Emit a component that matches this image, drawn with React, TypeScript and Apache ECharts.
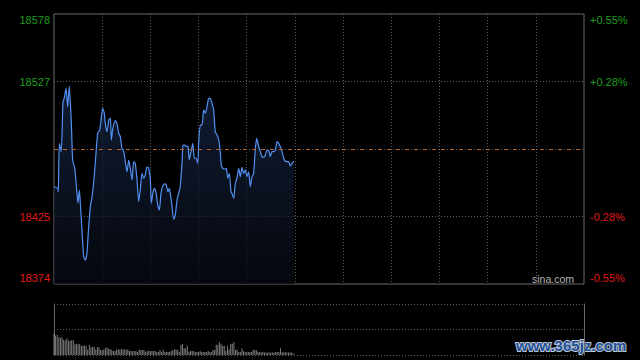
import React, { useEffect, useRef } from "react";
import * as echarts from "echarts";

const prevClose = 18476;
const priceMin = 18374;
const priceMax = 18578;
const priceStep = 51;

const times = [
  0, 2.3, 2.7, 3.3, 4.5, 5.6, 6.4, 7.5, 8.5, 9.5,
  10.8, 11.6, 12.9, 14.3, 14.9, 15.8, 16.4, 17.4, 18.5, 19.5,
  20.5, 21.6, 22.6, 23.7, 24.7, 25.7, 27.2, 28.5, 29.5, 30.3,
  31.3, 31.9, 33.0, 34.1, 35.1, 35.7, 36.7, 38.2, 39.2, 40.3,
  41.3, 42.3, 43.4, 44.4, 45.5, 46.5, 47.5, 48.6, 49.6, 50.6,
  51.7, 52.7, 53.7, 54.8, 55.9, 56.8, 57.9, 59.0, 60.0, 60.6,
  61.5, 62.5, 63.5, 64.6, 65.6, 66.6, 67.7, 68.9, 69.9, 71.0,
  71.8, 72.7, 73.5, 74.5, 75.5, 76.6, 77.6, 78.6, 79.7, 80.3,
  81.4, 82.4, 83.4, 84.2, 85.3, 86.4, 87.4, 88.4, 89.5, 90.1,
  91.1, 92.2, 93.2, 94.2, 95.3, 96.3, 97.3, 98.4, 99.4, 100.4,
  101.5, 102.6, 103.5, 104.2, 105.2, 106.3, 107.3, 108.2, 109.2, 110.2,
  110.8, 111.9, 112.9, 113.9, 115.0, 116.0, 117.1, 118.1, 119.1, 120.2,
  121.2, 122.2, 123.3, 124.3, 125.3, 126.2, 127.5, 128.5, 129.5, 130.6,
  131.6, 132.6, 133.7, 134.7, 135.7, 136.8, 137.8, 138.9, 139.9, 140.9,
  142.0, 143.0, 144.0, 145.1, 146.1, 147.1, 148.2, 149.3,
];

const prices = [
  18447.5, 18446.3, 18443.7, 18480.3, 18474.0, 18511.7, 18514.5, 18521.9, 18508.0, 18523.6,
  18495.6, 18467.7, 18461.6, 18442.8, 18435.2, 18445.0, 18435.2, 18414.8, 18394.6, 18392.1,
  18397.4, 18417.3, 18432.4, 18440.0, 18450.3, 18465.4, 18488.1, 18490.4, 18500.4, 18506.7,
  18503.2, 18495.6, 18489.1, 18497.9, 18499.4, 18482.8, 18491.9, 18497.4, 18495.4, 18487.9,
  18485.3, 18476.5, 18474.0, 18466.4, 18458.8, 18467.7, 18461.4, 18452.6, 18466.4, 18465.2,
  18452.6, 18436.2, 18445.0, 18457.6, 18453.9, 18456.4, 18462.6, 18461.4, 18452.6, 18435.0,
  18442.5, 18446.3, 18443.7, 18433.7, 18429.9, 18442.5, 18448.0, 18449.6, 18448.8, 18443.7,
  18446.3, 18440.0, 18432.4, 18422.9, 18426.1, 18437.5, 18442.5, 18447.5, 18465.2, 18479.0,
  18479.0, 18477.7, 18478.3, 18467.7, 18474.0, 18480.3, 18469.0, 18469.0, 18465.2, 18481.5,
  18494.1, 18494.1, 18505.5, 18503.0, 18508.0, 18514.3, 18514.3, 18510.5, 18505.5, 18489.1,
  18486.6, 18482.8, 18474.0, 18463.2, 18461.4, 18460.7, 18461.4, 18453.9, 18457.6, 18443.7,
  18442.5, 18438.7, 18450.1, 18453.9, 18461.4, 18455.1, 18462.2, 18457.6, 18460.1, 18455.1,
  18458.8, 18447.5, 18455.1, 18457.6, 18475.2, 18484.1, 18477.7, 18474.0, 18470.2, 18469.7,
  18471.5, 18475.2, 18474.7, 18470.2, 18474.0, 18474.0, 18475.2, 18481.5, 18480.3, 18477.7,
  18474.0, 18469.0, 18466.9, 18466.4, 18466.4, 18463.2, 18465.2, 18466.9,
];

const volumes = [
  42, 38, 39, 35, 34, 35, 30, 29, 33, 28,
  28, 29, 29, 22, 21, 21, 22, 18, 18, 18,
  18, 11, 20, 15, 16, 16, 11, 15, 15, 10,
  10, 11, 13, 15, 12, 12, 10, 8, 8, 11,
  11, 11, 12, 11, 11, 11, 11, 8, 8, 8,
  8, 8, 6, 11, 10, 10, 10, 6, 8, 8,
  8, 8, 8, 8, 6, 6, 10, 6, 11, 6,
  6, 6, 6, 8, 10, 11, 11, 10, 6, 20,
  22, 13, 13, 18, 6, 8, 8, 8, 6, 6,
  6, 8, 6, 6, 6, 6, 8, 6, 6, 10,
  10, 20, 20, 25, 22, 18, 18, 8, 18, 11,
  22, 22, 25, 10, 11, 6, 6, 13, 8, 6,
  6, 6, 6, 6, 10, 10, 10, 6, 6, 5,
  6, 5, 5, 5, 5, 5, 5, 5, 6, 6,
  6, 13, 6, 5, 6, 5, 5, 5, 5, 3,
];

const sessionMinutes = 330;
const minuteStep = 30;

const GREEN = "#1f9e1f";
const RED = "#e01818";
const FONT = "'Liberation Sans', Arial, sans-serif";

export default function App() {
  const ref = useRef<HTMLDivElement>(null);

  useEffect(() => {
    if (!ref.current) return;
    const chart = echarts.init(ref.current, null, { renderer: "svg" });

    const lineData = prices.map((p, i) => [times[i], p]);
    const volData = volumes.map((v, i) => [i, v]);

    const leftFmt = (v: number) => {
      const r = Math.round(v);
      if (r === prevClose) return "";
      if (r === priceMax) return "{gt|" + r + "}";
      if (r === priceMin) return "{rb|" + r + "}";
      return r > prevClose ? "{g|" + r + "}" : "{r|" + r + "}";
    };
    const rightFmt = (v: number) => {
      const r = Math.round(v);
      if (r === prevClose) return "";
      const pct = ((r - prevClose) / prevClose) * 100;
      const s = (pct > 0 ? "+" : "") + pct.toFixed(2) + "%";
      if (r === priceMax) return "{gt|" + s + "}";
      if (r === priceMin) return "{rb|" + s + "}";
      return r > prevClose ? "{g|" + s + "}" : "{r|" + s + "}";
    };
    const rich = {
      gt: { color: GREEN, fontSize: 11, fontFamily: FONT, padding: [12, 0, 0, 0] },
      g: { color: GREEN, fontSize: 11, fontFamily: FONT },
      r: { color: RED, fontSize: 11, fontFamily: FONT },
      rb: { color: RED, fontSize: 11, fontFamily: FONT, padding: [0, 0, 12, 0] },
    };
    const dotted = { color: "#5e5e5e", type: [1, 2] as any, width: 1 };

    chart.setOption({
      animation: false,
      backgroundColor: "#000000",
      grid: [
        { left: 54, top: 14, width: 530, height: 270, show: true, borderColor: "#6a6a6a", borderWidth: 1, backgroundColor: "transparent" },
        { left: 54, top: 304, width: 530, height: 51, show: false },
      ],
      xAxis: [
        {
          type: "value", gridIndex: 0, min: 0, max: sessionMinutes, interval: minuteStep,
          axisLine: { show: false }, axisTick: { show: false }, axisLabel: { show: false },
          splitLine: { show: true, showMinLine: false, showMaxLine: false, lineStyle: dotted },
        },
        {
          type: "value", gridIndex: 1, min: 0, max: sessionMinutes, interval: minuteStep,
          axisLine: { show: false }, axisTick: { show: false }, axisLabel: { show: false },
          splitLine: { show: false },
        },
      ],
      yAxis: [
        {
          type: "value", gridIndex: 0, min: priceMin, max: priceMax, interval: priceStep, position: "left",
          axisLine: { show: false }, axisTick: { show: false },
          axisLabel: { show: true, margin: 4, formatter: leftFmt, rich },
          splitLine: { show: true, showMinLine: false, showMaxLine: false, lineStyle: dotted },
        },
        {
          type: "value", gridIndex: 0, min: priceMin, max: priceMax, interval: priceStep, position: "right",
          axisLine: { show: false }, axisTick: { show: false },
          axisLabel: { show: true, margin: 6, formatter: rightFmt, rich },
          splitLine: { show: false },
        },
        {
          type: "value", gridIndex: 1, min: 0, max: 100, interval: 50, position: "left",
          axisLine: { show: true, lineStyle: { color: "#6a6a6a", width: 1 } },
          axisTick: { show: false }, axisLabel: { show: false },
          splitLine: { show: true, lineStyle: dotted },
        },
        {
          type: "value", gridIndex: 1, min: 0, max: 100, interval: 50, position: "right",
          axisLine: { show: true, lineStyle: { color: "#6a6a6a", width: 1 } },
          axisTick: { show: false }, axisLabel: { show: false }, splitLine: { show: false },
        },
      ],
      series: [
        {
          type: "line", xAxisIndex: 0, yAxisIndex: 0, data: lineData,
          showSymbol: false, smooth: 0.2,
          lineStyle: { color: "#5291f2", width: 1.2 },
          areaStyle: {
            origin: "start",
            color: new echarts.graphic.LinearGradient(0, 0, 0, 1, [
              { offset: 0, color: "#17284a" },
              { offset: 1, color: "#070a12" },
            ]),
          },
          markLine: {
            silent: true, symbol: "none", label: { show: false },
            lineStyle: { color: "#b8652a", type: [4, 5], width: 1 },
            data: [{ yAxis: prevClose }],
          },
        },
        {
          type: "bar", xAxisIndex: 1, yAxisIndex: 2, data: volData,
          barWidth: 1, itemStyle: { color: "#7c7c7c" },
        },
      ],
      graphic: [
        {
          type: "text", left: 532, top: 273,
          style: { text: "sina.com", fill: "#b4b4b4", font: "10.5px " + FONT },
        },
        {
          type: "text", left: 515, top: 337,
          style: {
            text: "www.365jz.com", fill: "#1f4f96", stroke: "#b9c6d4", lineWidth: 2,
            font: "bold 15px " + FONT,
          },
        },
      ],
    });

    return () => chart.dispose();
  }, []);

  return (
    <div
      ref={ref}
      style={{ position: "absolute", left: 0, top: 0, width: 640, height: 360, background: "#000" }}
    />
  );
}
